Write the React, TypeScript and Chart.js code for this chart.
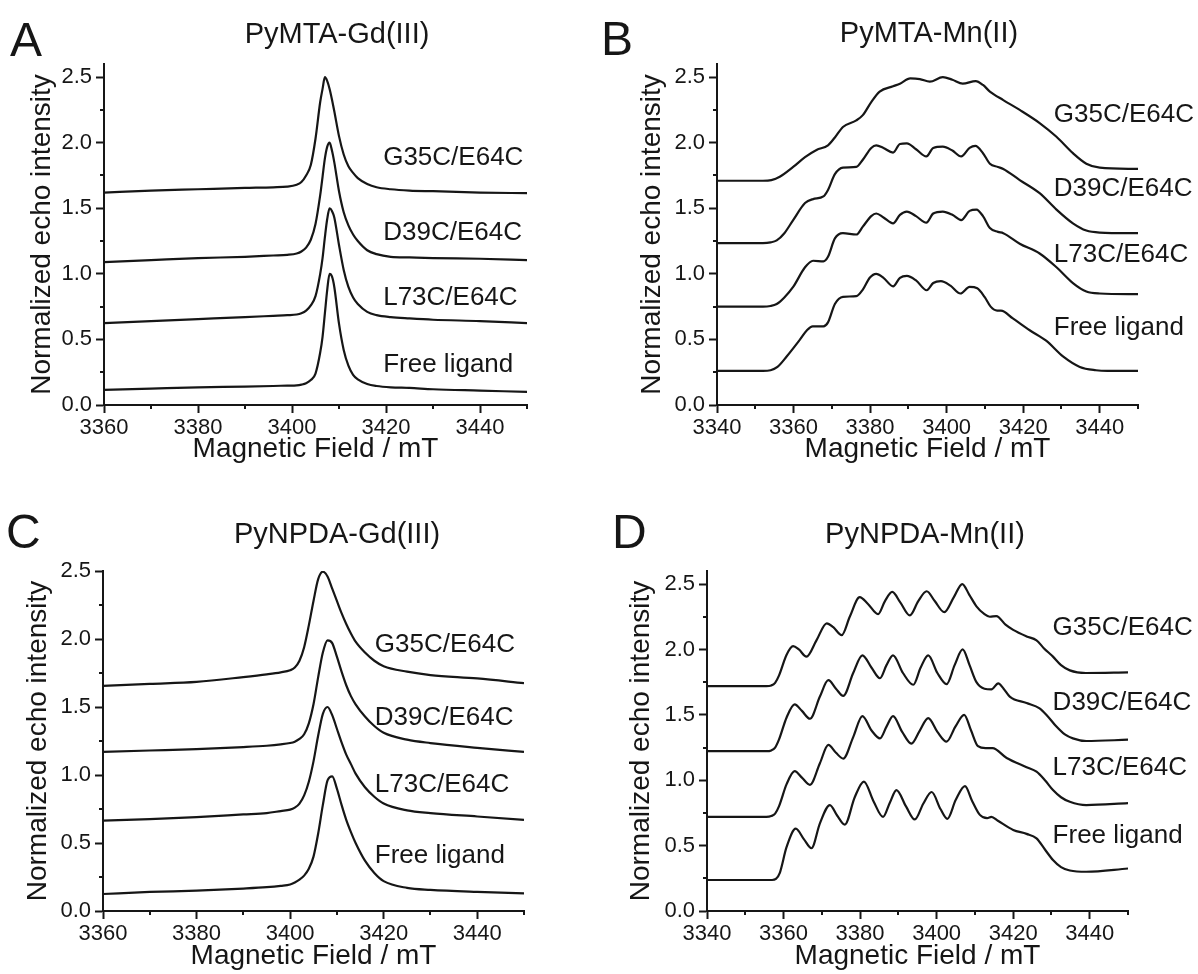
import React, { useEffect, useRef } from 'react';
import { Chart, registerables } from 'chart.js';

Chart.register(...registerables);

const FONT = '"Liberation Sans", Arial, Helvetica, sans-serif';
const INK = '#161616';

// ---- tick values / labels ----
const GD_X_TICKS = [3360, 3370, 3380, 3390, 3400, 3410, 3420, 3430, 3440, 3450];
const MN_X_TICKS = [3340, 3350, 3360, 3370, 3380, 3390, 3400, 3410, 3420, 3430, 3440, 3450];
const Y_TICKS = [0, 0.25, 0.5, 0.75, 1.0, 1.25, 1.5, 1.75, 2.0, 2.25, 2.5];

const SERIES_NAMES = ['G35C/E64C', 'D39C/E64C', 'L73C/E64C', 'Free ligand'];
const PANEL_TITLES = ['PyMTA-Gd(III)', 'PyMTA-Mn(II)', 'PyNPDA-Gd(III)', 'PyNPDA-Mn(II)'];
const PANEL_LETTERS = ['A', 'B', 'C', 'D'];
const X_TITLE = 'Magnetic Field / mT';
const Y_TITLE = 'Normalized echo intensity';

// ---- Panel A: PyMTA-Gd(III) ----
const A_FIELD = [3360, 3370, 3380, 3390, 3396, 3399, 3401, 3402, 3403, 3404, 3405, 3406, 3406.5, 3407, 3407.5, 3408, 3408.5, 3409, 3410, 3411, 3412, 3413, 3414, 3416, 3418, 3421, 3425, 3430, 3440, 3450];
const A_G35C = [1.62, 1.635, 1.645, 1.655, 1.66, 1.665, 1.68, 1.70, 1.75, 1.83, 2.03, 2.31, 2.41, 2.50, 2.47, 2.41, 2.33, 2.24, 2.05, 1.91, 1.82, 1.77, 1.73, 1.685, 1.66, 1.645, 1.635, 1.63, 1.62, 1.615];
const A_D39C = [1.09, 1.105, 1.12, 1.13, 1.14, 1.145, 1.155, 1.17, 1.20, 1.26, 1.38, 1.60, 1.74, 1.88, 1.97, 2.0, 1.94, 1.85, 1.63, 1.47, 1.37, 1.30, 1.25, 1.18, 1.15, 1.13, 1.125, 1.12, 1.115, 1.105];
const A_L73C = [0.625, 0.64, 0.655, 0.67, 0.68, 0.685, 0.69, 0.70, 0.72, 0.76, 0.83, 1.00, 1.12, 1.28, 1.42, 1.50, 1.48, 1.43, 1.22, 1.03, 0.90, 0.82, 0.77, 0.71, 0.685, 0.67, 0.66, 0.65, 0.64, 0.625];
const A_FREE = [0.115, 0.125, 0.135, 0.14, 0.145, 0.148, 0.15, 0.155, 0.165, 0.19, 0.24, 0.40, 0.52, 0.70, 0.88, 1.0, 0.98, 0.90, 0.62, 0.42, 0.30, 0.23, 0.195, 0.16, 0.145, 0.135, 0.13, 0.12, 0.11, 0.10];

// ---- Panel C: PyNPDA-Gd(III) ----
const C_FIELD = [3360, 3370, 3380, 3390, 3395, 3398, 3400, 3401, 3402, 3403, 3404, 3405, 3406, 3407, 3408, 3409, 3410, 3411, 3412, 3413, 3414, 3416, 3418, 3420, 3425, 3430, 3440, 3450];
const C_G35C = [1.655, 1.67, 1.685, 1.72, 1.74, 1.755, 1.77, 1.79, 1.84, 1.94, 2.10, 2.28, 2.44, 2.495, 2.46, 2.37, 2.28, 2.19, 2.11, 2.04, 1.98, 1.90, 1.84, 1.80, 1.76, 1.735, 1.71, 1.675];
const C_D39C = [1.17, 1.18, 1.19, 1.205, 1.215, 1.225, 1.235, 1.245, 1.265, 1.30, 1.38, 1.52, 1.72, 1.90, 1.99, 1.97, 1.87, 1.76, 1.66, 1.58, 1.52, 1.43, 1.36, 1.31, 1.26, 1.235, 1.20, 1.17];
const C_L73C = [0.665, 0.675, 0.69, 0.71, 0.72, 0.735, 0.745, 0.76, 0.79, 0.85, 0.95, 1.10, 1.29, 1.45, 1.50, 1.44, 1.34, 1.24, 1.15, 1.08, 1.01, 0.91, 0.84, 0.79, 0.74, 0.72, 0.695, 0.67];
const C_FREE = [0.125, 0.14, 0.15, 0.165, 0.175, 0.185, 0.195, 0.21, 0.23, 0.26, 0.31, 0.40, 0.57, 0.78, 0.96, 0.99, 0.90, 0.78, 0.67, 0.58, 0.50, 0.37, 0.28, 0.22, 0.17, 0.155, 0.14, 0.13];

// ---- Panel B: PyMTA-Mn(II)  [field, intensity] ----
const B_G35C: [number, number][] = [[3340, 1.71], [3352, 1.71], [3354.2, 1.715], [3356.4, 1.74], [3359.9, 1.815], [3363, 1.89], [3366, 1.945], [3369, 1.98], [3370.8, 2.04], [3372.9, 2.12], [3376.4, 2.17], [3378.1, 2.21], [3380.3, 2.31], [3382.5, 2.39], [3386, 2.43], [3387.8, 2.45], [3390.5, 2.49], [3393, 2.485], [3395.6, 2.465], [3399, 2.50], [3401.5, 2.48], [3404.2, 2.45], [3407.6, 2.47], [3409.5, 2.44], [3411.3, 2.39], [3414.8, 2.325], [3419.1, 2.25], [3424.3, 2.15], [3428.7, 2.045], [3433, 1.92], [3436.5, 1.84], [3440, 1.81], [3450, 1.80]];
const B_D39C: [number, number][] = [[3340, 1.235], [3352, 1.235], [3354, 1.24], [3355.6, 1.255], [3357.6, 1.31], [3359.9, 1.41], [3363, 1.54], [3365.1, 1.57], [3367.8, 1.59], [3369, 1.64], [3370.8, 1.76], [3372.9, 1.81], [3376.4, 1.815], [3378.1, 1.87], [3380.3, 1.96], [3381.6, 1.98], [3383.5, 1.96], [3386, 1.925], [3387.8, 1.99], [3389.6, 1.995], [3392, 1.95], [3394.7, 1.895], [3396.5, 1.96], [3399, 1.97], [3401.5, 1.94], [3403.8, 1.895], [3406, 1.96], [3407.5, 1.975], [3409.5, 1.92], [3411.3, 1.84], [3413.4, 1.815], [3414.8, 1.80], [3419.1, 1.715], [3424.3, 1.615], [3428.7, 1.49], [3433, 1.385], [3436.5, 1.33], [3440, 1.315], [3450, 1.31]];
const B_L73C: [number, number][] = [[3340, 0.75], [3352, 0.75], [3354, 0.755], [3355.6, 0.77], [3357.6, 0.82], [3359.9, 0.90], [3363, 1.05], [3365.1, 1.10], [3367.8, 1.095], [3369, 1.13], [3370.8, 1.27], [3372.9, 1.31], [3376.4, 1.30], [3378.1, 1.36], [3380.3, 1.44], [3381.6, 1.46], [3383.5, 1.43], [3386, 1.385], [3387.8, 1.45], [3389.6, 1.475], [3392, 1.44], [3394.7, 1.39], [3396.5, 1.46], [3399, 1.475], [3401.5, 1.45], [3403.8, 1.41], [3406, 1.48], [3407.8, 1.49], [3409.5, 1.44], [3411.3, 1.35], [3413.4, 1.32], [3414.8, 1.31], [3419.1, 1.23], [3424.3, 1.155], [3428.7, 1.05], [3433, 0.93], [3436.5, 0.865], [3440, 0.85], [3450, 0.845]];
const B_FREE: [number, number][] = [[3340, 0.26], [3352, 0.26], [3354, 0.265], [3355.8, 0.29], [3358.2, 0.37], [3361.7, 0.50], [3363.5, 0.57], [3365, 0.60], [3367.8, 0.60], [3369, 0.63], [3370.8, 0.77], [3372.9, 0.825], [3376.4, 0.83], [3378.1, 0.88], [3379.9, 0.97], [3381.6, 1.0], [3383.5, 0.97], [3386, 0.905], [3387.8, 0.97], [3389.6, 0.985], [3392, 0.95], [3394.8, 0.875], [3396.5, 0.93], [3398.5, 0.945], [3401, 0.91], [3403.6, 0.85], [3406, 0.90], [3408, 0.89], [3410, 0.82], [3411.5, 0.75], [3413.2, 0.72], [3414.2, 0.72], [3417.3, 0.66], [3421.7, 0.57], [3426, 0.49], [3430.4, 0.37], [3434.8, 0.29], [3439, 0.265], [3442, 0.26], [3450, 0.26]];

// ---- Panel D: PyNPDA-Mn(II)  [field, intensity] ----
const D_G35C: [number, number][] = [[3340, 1.72], [3355.5, 1.72], [3356.8, 1.725], [3357.8, 1.745], [3358.8, 1.80], [3360.8, 1.96], [3362.5, 2.025], [3364, 2.00], [3366, 1.945], [3368.6, 2.07], [3371.3, 2.20], [3373, 2.17], [3375.2, 2.11], [3377.3, 2.25], [3379.9, 2.40], [3382, 2.35], [3384.7, 2.27], [3386.5, 2.37], [3388.4, 2.44], [3390.5, 2.36], [3393, 2.26], [3395.2, 2.37], [3397.4, 2.445], [3399.5, 2.37], [3402, 2.285], [3404.5, 2.40], [3406.7, 2.50], [3408.5, 2.42], [3410.4, 2.33], [3412.5, 2.27], [3413.9, 2.25], [3415.6, 2.255], [3418, 2.19], [3420, 2.15], [3423.5, 2.10], [3426.1, 2.07], [3428, 2.01], [3430.4, 1.945], [3432.5, 1.88], [3434.8, 1.84], [3439, 1.82], [3450, 1.825]];
const D_D39C: [number, number][] = [[3340, 1.222], [3355.5, 1.222], [3356.8, 1.228], [3357.8, 1.25], [3358.8, 1.31], [3360.8, 1.48], [3362.9, 1.58], [3364.8, 1.53], [3366.9, 1.47], [3369.5, 1.64], [3371.7, 1.765], [3373.7, 1.70], [3375.6, 1.645], [3378.2, 1.82], [3380.6, 1.955], [3383, 1.86], [3385.2, 1.78], [3386.9, 1.88], [3388.6, 1.955], [3391.2, 1.82], [3393.9, 1.73], [3395.8, 1.86], [3397.8, 1.955], [3400.2, 1.82], [3402.6, 1.735], [3404.7, 1.88], [3406.8, 2.0], [3408.6, 1.88], [3410.4, 1.75], [3412.5, 1.70], [3414.3, 1.695], [3416.1, 1.74], [3417.5, 1.70], [3419.1, 1.64], [3423.5, 1.59], [3426.9, 1.55], [3429, 1.49], [3431.3, 1.41], [3433.5, 1.35], [3435.6, 1.32], [3439.1, 1.30], [3450, 1.31]];
const D_L73C: [number, number][] = [[3340, 0.72], [3355.5, 0.72], [3356.8, 0.726], [3357.8, 0.745], [3358.8, 0.80], [3360.8, 0.97], [3362.9, 1.07], [3364.8, 1.02], [3366.9, 0.965], [3369.5, 1.13], [3371.7, 1.27], [3373.7, 1.21], [3375.6, 1.165], [3378.2, 1.33], [3380.6, 1.49], [3383, 1.38], [3385.2, 1.32], [3386.9, 1.41], [3388.6, 1.49], [3391, 1.37], [3393.4, 1.28], [3395.6, 1.38], [3397.8, 1.475], [3400.2, 1.37], [3402.6, 1.295], [3404.9, 1.41], [3407.2, 1.50], [3409, 1.38], [3410.8, 1.26], [3412.8, 1.245], [3414.6, 1.245], [3418.3, 1.17], [3423.5, 1.10], [3426.1, 1.065], [3428.3, 1.00], [3430.4, 0.925], [3432.5, 0.87], [3434.8, 0.835], [3439.1, 0.81], [3450, 0.825]];
const D_FREE: [number, number][] = [[3340, 0.237], [3357, 0.237], [3358, 0.245], [3359, 0.29], [3360.8, 0.49], [3363.2, 0.63], [3365.3, 0.55], [3367.3, 0.48], [3369.5, 0.67], [3372.1, 0.81], [3374, 0.73], [3376, 0.66], [3378.6, 0.87], [3381, 0.99], [3383.5, 0.84], [3386, 0.72], [3387.8, 0.83], [3389.5, 0.925], [3392, 0.80], [3394.3, 0.70], [3396.5, 0.82], [3398.7, 0.91], [3401, 0.78], [3402.8, 0.705], [3405, 0.85], [3407.4, 0.955], [3409.3, 0.84], [3411.3, 0.735], [3413.2, 0.71], [3414.3, 0.72], [3416, 0.69], [3420, 0.62], [3423.5, 0.59], [3426.1, 0.555], [3428.3, 0.47], [3430.4, 0.39], [3432.5, 0.335], [3434.8, 0.31], [3439.1, 0.30], [3450, 0.325]];

const zipXY = (xs: number[], ys: number[]) => xs.map((x, i) => ({ x, y: ys[i] }));
const pairsXY = (pts: [number, number][]) => pts.map(([x, y]) => ({ x, y }));

const CW = 599;
const CH = 487;

type PanelCfg = {
  idx: number;
  left: number;
  top: number;
  area: { left: number; right: number; top: number; bottom: number };
  xMin: number;
  xTicks: number[];
  yMax: number;
  series: { x: number; y: number }[][];
  yTitlePad: number;
  xTitlePad: number;
  letterX: number;
  letterY: number;
  titleX: number;
  titleY: number;
  labelField: number;
  labelLevels: number[];
};

const PANELS: PanelCfg[] = [
  {
    idx: 0, left: 0, top: 0,
    area: { left: 104, right: 527, top: 64, bottom: 405 },
    xMin: 3360, xTicks: GD_X_TICKS, yMax: 2.6,
    series: [zipXY(A_FIELD, A_G35C), zipXY(A_FIELD, A_D39C), zipXY(A_FIELD, A_L73C), zipXY(A_FIELD, A_FREE)],
    yTitlePad: 25, xTitlePad: 21,
    letterX: 10, letterY: 56, titleX: 337, titleY: 43,
    labelField: 3419.4, labelLevels: [1.83, 1.258, 0.762, 0.25],
  },
  {
    idx: 1, left: 599, top: 0,
    area: { left: 118, right: 539, top: 64, bottom: 405 },
    xMin: 3340, xTicks: MN_X_TICKS, yMax: 2.6,
    series: [pairsXY(B_G35C), pairsXY(B_D39C), pairsXY(B_L73C), pairsXY(B_FREE)],
    yTitlePad: 36, xTitlePad: 21,
    letterX: 2, letterY: 55, titleX: 330, titleY: 42,
    labelField: 3428, labelLevels: [2.16, 1.59, 1.09, 0.533],
  },
  {
    idx: 2, left: 0, top: 487,
    area: { left: 103, right: 524, top: 84, bottom: 424 },
    xMin: 3360, xTicks: GD_X_TICKS, yMax: 2.5,
    series: [zipXY(C_FIELD, C_G35C), zipXY(C_FIELD, C_D39C), zipXY(C_FIELD, C_L73C), zipXY(C_FIELD, C_FREE)],
    yTitlePad: 21, xTitlePad: 1,
    letterX: 6, letterY: 61, titleX: 337, titleY: 56,
    labelField: 3418.1, labelLevels: [1.907, 1.368, 0.877, 0.35],
  },
  {
    idx: 3, left: 599, top: 487,
    area: { left: 108, right: 529, top: 84, bottom: 424 },
    xMin: 3340, xTicks: MN_X_TICKS, yMax: 2.6,
    series: [pairsXY(D_G35C), pairsXY(D_D39C), pairsXY(D_L73C), pairsXY(D_FREE)],
    yTitlePad: 25, xTitlePad: 1,
    letterX: 13, letterY: 61, titleX: 326, titleY: 56,
    labelField: 3430.3, labelLevels: [2.11, 1.537, 1.04, 0.518],
  },
];

const isMajorX = (v: number) => Math.abs(v % 20) < 1e-6;
const isMajorY = (v: number) => Math.abs(Math.round(v * 100) % 50) < 1e-6;

const minorTicksPlugin = {
  id: 'minorTicks',
  afterDraw(chart: any) {
    const { ctx } = chart;
    const x = chart.scales.x;
    const y = chart.scales.y;
    ctx.save();
    ctx.strokeStyle = INK;
    ctx.lineWidth = 2;
    ctx.beginPath();
    x.ticks.forEach((t: any) => {
      if (!isMajorX(t.value)) {
        const px = Math.round(x.getPixelForValue(t.value));
        ctx.moveTo(px, x.top);
        ctx.lineTo(px, x.top + 4);
      }
    });
    y.ticks.forEach((t: any) => {
      if (!isMajorY(t.value)) {
        const py = Math.round(y.getPixelForValue(t.value));
        ctx.moveTo(y.right - 4, py);
        ctx.lineTo(y.right, py);
      }
    });
    ctx.stroke();
    ctx.restore();
  },
};

const textPlugin = {
  id: 'panelText',
  afterDraw(chart: any) {
    const o = chart.options.plugins.panelText;
    if (!o) return;
    const { ctx } = chart;
    const x = chart.scales.x;
    const y = chart.scales.y;
    ctx.save();
    ctx.fillStyle = INK;
    ctx.textBaseline = 'alphabetic';
    ctx.textAlign = 'left';
    ctx.font = `48px ${FONT}`;
    ctx.fillText(o.letter, o.letterX, o.letterY);
    ctx.textAlign = 'center';
    ctx.font = `29px ${FONT}`;
    ctx.fillText(o.title, o.titleX, o.titleY);
    ctx.textAlign = 'left';
    ctx.font = `26px ${FONT}`;
    o.names.forEach((name: string, i: number) => {
      ctx.fillText(name, x.getPixelForValue(o.labelField), y.getPixelForValue(o.labelLevels[i]));
    });
    ctx.restore();
  },
};

function buildChart(canvas: HTMLCanvasElement, p: PanelCfg) {
  return new Chart(canvas, {
    type: 'line',
    data: {
      datasets: p.series.map((s, i) => ({
        label: SERIES_NAMES[i],
        data: s,
        borderColor: INK,
        borderWidth: 2.2,
        pointRadius: 0,
        fill: false,
        cubicInterpolationMode: 'monotone',
      })),
    },
    options: {
      animation: false,
      responsive: false,
      devicePixelRatio: 1,
      events: [],
      layout: {
        autoPadding: false,
        padding: { left: 0, top: p.area.top, right: CW - p.area.right, bottom: 0 },
      },
      plugins: {
        legend: { display: false },
        tooltip: { enabled: false },
        panelText: {
          letter: PANEL_LETTERS[p.idx],
          letterX: p.letterX,
          letterY: p.letterY,
          title: PANEL_TITLES[p.idx],
          titleX: p.titleX,
          titleY: p.titleY,
          names: SERIES_NAMES,
          labelField: p.labelField,
          labelLevels: p.labelLevels,
        },
      } as any,
      scales: {
        x: {
          type: 'linear',
          min: p.xMin,
          max: 3450,
          afterBuildTicks: (s: any) => {
            s.ticks = p.xTicks.map((v) => ({ value: v }));
          },
          afterFit: (s: any) => {
            s.height = CH - p.area.bottom;
          },
          ticks: {
            autoSkip: false,
            maxRotation: 0,
            minRotation: 0,
            padding: 2,
            color: INK,
            font: { family: FONT, size: 22 },
            callback: (v: any) => (isMajorX(Number(v)) ? String(v) : ''),
          },
          grid: {
            display: true,
            drawOnChartArea: false,
            drawTicks: true,
            tickLength: 8,
            tickWidth: 2,
            tickColor: (c: any) => (c.tick && isMajorX(c.tick.value) ? INK : 'rgba(0,0,0,0)'),
          },
          border: { display: true, color: INK, width: 2 },
          title: {
            display: true,
            text: X_TITLE,
            color: INK,
            font: { family: FONT, size: 28 },
            padding: { top: 0, bottom: p.xTitlePad },
          },
        },
        y: {
          type: 'linear',
          min: 0,
          max: p.yMax,
          afterBuildTicks: (s: any) => {
            s.ticks = Y_TICKS.map((v) => ({ value: v }));
          },
          afterFit: (s: any) => {
            s.width = p.area.left;
          },
          ticks: {
            autoSkip: false,
            padding: 4,
            color: INK,
            font: { family: FONT, size: 22 },
            callback: (v: any) => (isMajorY(Number(v)) ? Number(v).toFixed(1) : ''),
          },
          grid: {
            display: true,
            drawOnChartArea: false,
            drawTicks: true,
            tickLength: 8,
            tickWidth: 2,
            tickColor: (c: any) => (c.tick && isMajorY(c.tick.value) ? INK : 'rgba(0,0,0,0)'),
          },
          border: { display: true, color: INK, width: 2 },
          title: {
            display: true,
            text: Y_TITLE,
            color: INK,
            font: { family: FONT, size: 28 },
            padding: { top: p.yTitlePad, bottom: 0 },
          },
        },
      },
    } as any,
    plugins: [minorTicksPlugin, textPlugin],
  });
}

function Panel({ p }: { p: PanelCfg }) {
  const ref = useRef<HTMLCanvasElement | null>(null);
  useEffect(() => {
    if (!ref.current) return;
    const chart = buildChart(ref.current, p);
    return () => chart.destroy();
  }, [p]);
  return (
    <canvas
      ref={ref}
      width={CW}
      height={CH}
      style={{ position: 'absolute', left: p.left, top: p.top, width: CW, height: CH }}
    />
  );
}

export default function App() {
  return (
    <div style={{ position: 'fixed', left: 0, top: 0, width: 1198, height: 974, background: '#ffffff', overflow: 'hidden' }}>
      {PANELS.map((p) => (
        <Panel key={p.idx} p={p} />
      ))}
    </div>
  );
}
